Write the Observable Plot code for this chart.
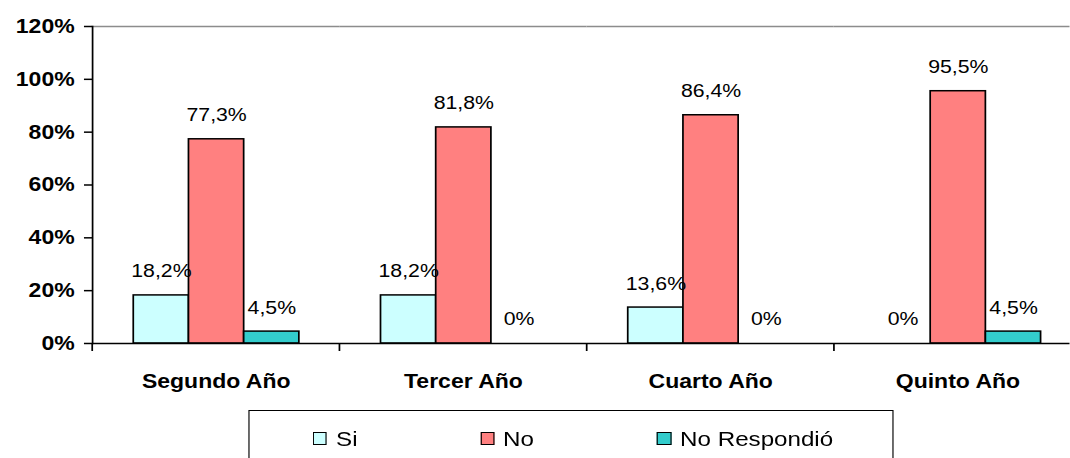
<!DOCTYPE html>
<html>
<head>
<meta charset="utf-8">
<script src="https://cdn.jsdelivr.net/npm/d3@7"></script>
<script src="https://cdn.jsdelivr.net/npm/@observablehq/plot@0.6"></script>
<style>
  html, body { margin: 0; padding: 0; background: white; overflow: hidden; }
  #wrap { transform-origin: 0 0; font-family: "Liberation Sans", Arial, sans-serif; }
  .legend { position: relative; box-sizing: border-box; border: 1px solid black; background: white; }
  .legend .item { position: absolute; display: flex; align-items: center; height: 24px; font-size: 21px; color: black; white-space: nowrap; }
  .legend .sw { box-sizing: border-box; border: 1px solid black; }
</style>
</head>
<body>
<div id="wrap"></div>
<script>
// ---- data ----
const categories = ["Segundo Año", "Tercer Año", "Cuarto Año", "Quinto Año"];
const series = ["Si", "No", "No Respondió"];
const si = [18.2, 18.2, 13.6, 0];
const no = [77.3, 81.8, 86.4, 95.5];
const noResp = [4.5, 0, 0, 4.5];
const colors = ["#CCFFFF", "#FF8080", "#33CCCC"];
const yTicks = [0, 20, 40, 60, 80, 100, 120];

const seriesValues = [si, no, noResp];
const data = categories.flatMap((c, i) =>
  seriesValues.map((arr, j) => ({category: c, series: series[j], value: arr[i]}))
);

const fmt = v => v === 0 ? "0%" : v.toFixed(1).replace(".", ",") + "%";

// horizontal stretch of the original rendering
const S = 1.15;
const W = 1070 / S;
const fxRange = [91 / S, 1083 / S];
const bandHalf = (fxRange[1] - fxRange[0]) / categories.length / 2;

const wrap = document.getElementById("wrap");
wrap.style.width = W + "px";
wrap.style.transform = `scaleX(${S})`;

const chart = Plot.plot({
  width: W,
  height: 400,
  marginTop: 26,
  marginBottom: 57,
  marginLeft: 91 / S,
  marginRight: 0,
  style: {fontFamily: "'Liberation Sans', Arial, sans-serif", fontSize: "20px", color: "black", background: "white"},
  fx: {domain: categories, range: fxRange, padding: 0},
  x: {domain: series, paddingInner: 0, paddingOuter: 0.73, axis: null},
  y: {domain: [0, 120], ticks: yTicks},
  color: {domain: series, range: colors},
  marks: [
    Plot.ruleY([120], {stroke: "#8c8c8c", strokeWidth: 1.5}),
    Plot.barY(data.filter(d => d.value > 0), {
      fx: "category", x: "series", y: "value", fill: "series",
      stroke: "black", strokeWidth: 1.5
    }),
    Plot.ruleY([0], {stroke: "black", strokeWidth: 1.5}),
    Plot.frame({anchor: "left", facetAnchor: "left", stroke: "black", strokeWidth: 1.5}),
    Plot.text(data, {
      fx: "category", x: "series", y: "value", text: d => fmt(d.value),
      lineAnchor: "bottom", dy: -18, fontSize: 18.5, fill: "black"
    }),
    Plot.axisY({
      ticks: yTicks, tickFormat: d => d + "%", tickSize: 7, tickPadding: 8.6,
      fontWeight: "bold", fontSize: 20, strokeWidth: 1.5, label: null
    }),
    Plot.axisFx({anchor: "bottom", tickSize: 8, tickFormat: () => "", dx: -bandHalf, strokeWidth: 1.5, label: null}),
    Plot.axisFx({anchor: "bottom", tickSize: 0, tickPadding: 30, fontWeight: "bold", fontSize: 20, label: null})
  ]
});
wrap.appendChild(chart);

// ---- legend ----
const legend = document.createElement("div");
legend.className = "legend";
legend.style.marginTop = "10px";
legend.style.marginLeft = (248 / S) + "px";
legend.style.width = ((893 - 248) / S) + "px";
legend.style.height = "60px";
const itemLefts = [313, 480, 657];
series.forEach((s, i) => {
  const item = document.createElement("div");
  item.className = "item";
  item.style.left = ((itemLefts[i] - 249) / S) + "px";
  item.style.top = "16px";
  item.style.gap = (9 / S) + "px";
  const sw = document.createElement("div");
  sw.className = "sw";
  sw.style.width = (14 / S) + "px";
  sw.style.height = "13px";
  sw.style.background = colors[i];
  const label = document.createElement("span");
  label.textContent = s;
  item.appendChild(sw);
  item.appendChild(label);
  legend.appendChild(item);
});
wrap.appendChild(legend);
</script>
</body>
</html>
